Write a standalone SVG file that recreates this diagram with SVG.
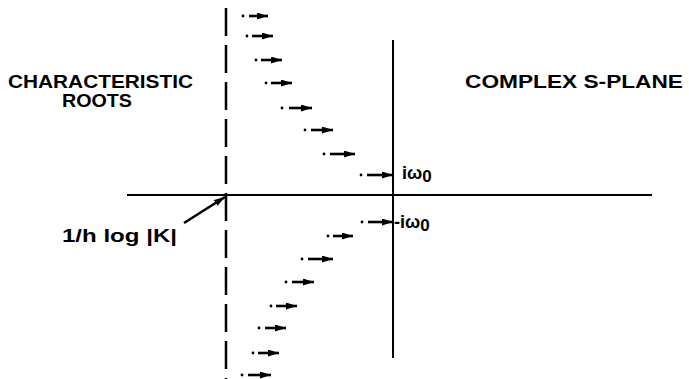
<svg xmlns="http://www.w3.org/2000/svg" width="689" height="379" viewBox="0 0 689 379">
<style>
.ax{stroke:#000;stroke-width:2;fill:none}
.dash{stroke:#000;stroke-width:2.5;fill:none;stroke-dasharray:28 9}
.r{stroke:#000;stroke-width:2.6;fill:none}
.dot{fill:#000}
.t{font-family:"Liberation Sans",Arial,sans-serif;font-weight:bold;font-size:18px;fill:#000}
</style>
<defs>
<marker id="ah" viewBox="0 0 11 7" refX="11" refY="3.5" markerWidth="11" markerHeight="7" markerUnits="userSpaceOnUse" orient="auto">
<path d="M0,0 L11,3.5 L0,7 Z" fill="#000"/>
</marker>
</defs>
<g id="axes">
<line class="ax" x1="127" y1="195" x2="652" y2="195"/>
<line class="ax" x1="393" y1="40" x2="393" y2="358"/>
<line class="dash" x1="226" y1="8" x2="226" y2="379"/>
</g>
<g id="roots">
<circle class="dot" cx="243" cy="16" r="1.4"/><line class="r" x1="249" y1="16" x2="268" y2="16" marker-end="url(#ah)"/>
<circle class="dot" cx="247" cy="36" r="1.4"/><line class="r" x1="252" y1="36" x2="273" y2="36" marker-end="url(#ah)"/>
<circle class="dot" cx="256" cy="60" r="1.4"/><line class="r" x1="261" y1="60" x2="282" y2="60" marker-end="url(#ah)"/>
<circle class="dot" cx="266" cy="83" r="1.4"/><line class="r" x1="271" y1="83" x2="292" y2="83" marker-end="url(#ah)"/>
<circle class="dot" cx="282" cy="108" r="1.4"/><line class="r" x1="289" y1="108" x2="312" y2="108" marker-end="url(#ah)"/>
<circle class="dot" cx="305" cy="130" r="1.4"/><line class="r" x1="311" y1="130" x2="333" y2="130" marker-end="url(#ah)"/>
<circle class="dot" cx="324" cy="154" r="1.4"/><line class="r" x1="330" y1="154" x2="355" y2="154" marker-end="url(#ah)"/>
<circle class="dot" cx="361" cy="175" r="1.4"/><line class="r" x1="367" y1="175" x2="393" y2="175" marker-end="url(#ah)"/>
<circle class="dot" cx="362" cy="222" r="1.4"/><line class="r" x1="368" y1="222" x2="393" y2="222" marker-end="url(#ah)"/>
<circle class="dot" cx="328" cy="236" r="1.4"/><line class="r" x1="333" y1="236" x2="353" y2="236" marker-end="url(#ah)"/>
<circle class="dot" cx="302" cy="259" r="1.4"/><line class="r" x1="308" y1="259" x2="333" y2="259" marker-end="url(#ah)"/>
<circle class="dot" cx="286" cy="282" r="1.4"/><line class="r" x1="292" y1="282" x2="314" y2="282" marker-end="url(#ah)"/>
<circle class="dot" cx="271" cy="306" r="1.4"/><line class="r" x1="276" y1="306" x2="297" y2="306" marker-end="url(#ah)"/>
<circle class="dot" cx="259" cy="328" r="1.4"/><line class="r" x1="265" y1="328" x2="286" y2="328" marker-end="url(#ah)"/>
<circle class="dot" cx="253" cy="353" r="1.4"/><line class="r" x1="258" y1="353" x2="279" y2="353" marker-end="url(#ah)"/>
<circle class="dot" cx="242" cy="375" r="1.4"/><line class="r" x1="248" y1="375" x2="271" y2="375" marker-end="url(#ah)"/>
</g>
<g id="connectors">
<line class="r" x1="184" y1="223" x2="225" y2="197" marker-end="url(#ah)"/>
</g>
<g id="labels">
<text class="t" x="8" y="88" textLength="185" lengthAdjust="spacingAndGlyphs">CHARACTERISTIC</text>
<text class="t" x="62" y="107" textLength="70" lengthAdjust="spacingAndGlyphs">ROOTS</text>
<text class="t" x="465" y="88" textLength="218" lengthAdjust="spacingAndGlyphs">COMPLEX S-PLANE</text>
<text class="t" x="62" y="242" font-size="20" textLength="115" lengthAdjust="spacingAndGlyphs">1/h log |K|</text>
<text class="t" x="402" y="179" font-size="22">iω<tspan font-size="17" dy="3">0</tspan></text>
<text class="t" x="394" y="228" font-size="22">-iω<tspan font-size="17" dy="3">0</tspan></text>
</g>
</svg>
